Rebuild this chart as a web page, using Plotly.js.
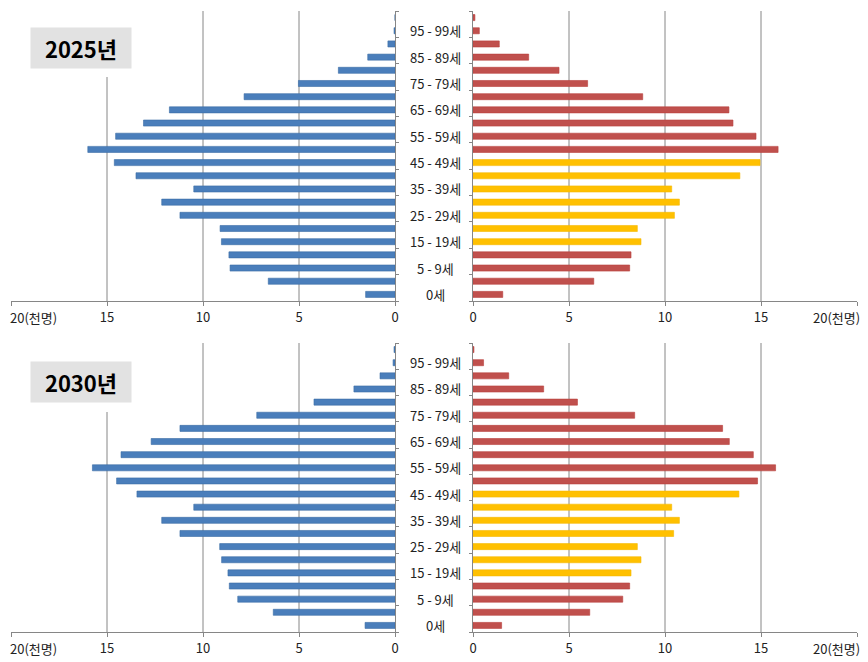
<!DOCTYPE html>
<html>
<head>
<meta charset="utf-8">
<script src="https://cdn.plot.ly/plotly-3.0.1.min.js"></script>
<style>
  html, body { margin: 0; padding: 0; background: #fff; }
  #plotArea { width: 868px; height: 662px; }
</style>
</head>
<body>
<div id="plotArea"></div>
<script>
var ages = ["0세", "1 - 4세", "5 - 9세", "10 - 14세", "15 - 19세", "20 - 24세", "25 - 29세",
    "30 - 34세", "35 - 39세", "40 - 44세", "45 - 49세", "50 - 54세", "55 - 59세", "60 - 64세",
    "65 - 69세", "70 - 74세", "75 - 79세", "80 - 84세", "85 - 89세", "90 - 94세", "95 - 99세", "100세 이상"];

// 천명 단위
var left2025 = [1.53, 6.6, 8.59, 8.65, 9.04, 9.11, 11.2, 12.15, 10.48, 13.49, 14.62,
    16.0, 14.55, 13.1, 11.75, 7.86, 5.03, 2.95, 1.42, 0.37, 0.05, 0];
var right2025 = [1.55, 6.29, 8.16, 8.23, 8.75, 8.56, 10.49, 10.75, 10.35, 13.9, 14.95,
    15.89, 14.74, 13.54, 13.33, 8.84, 5.97, 4.48, 2.9, 1.37, 0.33, 0.1];
var left2030 = [1.56, 6.34, 8.19, 8.63, 8.7, 9.03, 9.13, 11.2, 12.15, 10.48, 13.44,
    14.5, 15.76, 14.27, 12.7, 11.2, 7.2, 4.22, 2.14, 0.78, 0.1, 0.05];
var right2030 = [1.49, 6.08, 7.8, 8.16, 8.23, 8.75, 8.56, 10.45, 10.75, 10.35, 13.85,
    14.82, 15.76, 14.6, 13.35, 13.0, 8.42, 5.44, 3.68, 1.86, 0.55, 0.05];

var years = ["2025년", "2030년"];
var xTicks = [0, 5, 10, 15, 20];
var xTickText = ["0", "5", "10", "15", ""];

var font = "Noto Sans CJK KR, Noto Sans, sans-serif";
var blue = "#4a7ebb";
var red = "#c0504d";
var yellow = "#ffc000";

// 15-19세 ~ 45-49세 노란색
var rightColors = ages.map(function (a, i) { return (i >= 4 && i <= 10) ? yellow : red; });
var rightLines = ages.map(function (a, i) { return (i >= 4 && i <= 10) ? "#f5b800" : "#b8403d"; });

function barTrace(vals, xa, ya, color, line) {
    return {
        type: "bar", orientation: "h",
        x: vals, y: ages,
        xaxis: xa, yaxis: ya,
        marker: {color: color, line: {color: line, width: 0.6}},
        hoverinfo: "x+y"
    };
}

var data = [
    barTrace(left2025, "x", "y", blue, "#3b6ba5"),
    barTrace(right2025, "x2", "y2", rightColors, rightLines),
    barTrace(left2030, "x3", "y3", blue, "#3b6ba5"),
    barTrace(right2030, "x4", "y4", rightColors, rightLines)
];

var W = 868, H = 662;
var leftDom = [11 / W, 395 / W];
var rightDom = [473 / W, 857 / W];
var topDom = [1 - 301 / H, 1 - 11 / H];
var botDom = [1 - 632 / H, 1 - 343 / H];

function xAxis(dom, reversed, anchor) {
    return {
        domain: dom, anchor: anchor,
        range: reversed ? [20, 0] : [0, 20],
        tickvals: xTicks, ticktext: xTickText,
        ticks: "outside", ticklen: 4, tickcolor: "#868686",
        showline: true, linecolor: "#868686", linewidth: 1,
        showgrid: false, zeroline: false,
        tickfont: {family: font, size: 13, color: "#222"},
        fixedrange: true
    };
}

function yAxis(dom, side, anchor) {
    return {
        domain: dom, anchor: anchor, side: side,
        type: "category", categoryorder: "array", categoryarray: ages,
        range: [-0.5, ages.length - 0.5],
        showticklabels: false, ticks: "outside", tickson: "boundaries",
        ticklen: 3, tickcolor: "#868686",
        showline: true, linecolor: "#868686", linewidth: 1,
        showgrid: false, zeroline: false,
        fixedrange: true
    };
}

var shapes = [];
var gridAxes = [["x", "y"], ["x2", "y2"], ["x3", "y3"], ["x4", "y4"]];
gridAxes.forEach(function (p) {
    [5, 10, 15].forEach(function (v) {
        shapes.push({
            type: "line", xref: p[0], yref: p[1] + " domain",
            x0: v, x1: v, y0: 0, y1: 1,
            line: {color: "#868686", width: 1}, layer: "below"
        });
    });
});
// 제목 상자 뒤 흰 바탕 (눈금선 가림)
[[0, 77], [331, 412]].forEach(function (r) {
    shapes.push({
        type: "rect", xref: "paper", yref: "paper",
        x0: 20 / W, x1: 140 / W, y0: 1 - r[1] / H, y1: 1 - r[0] / H,
        fillcolor: "#fff", line: {width: 0}, layer: "below"
    });
});

var annotations = [];
var yTitle = [1 - 48.5 / H, 1 - 382 / H];
years.forEach(function (t, k) {
    annotations.push({
        text: "<b>" + t + "</b>", xref: "paper", yref: "paper",
        x: 80.5 / W, y: yTitle[k], xanchor: "center", yanchor: "middle",
        showarrow: false, width: 92, height: 32, borderpad: 4,
        bgcolor: "#e2e2e2",
        font: {family: font, size: 22, color: "#000"}
    });
});

// 가운데 연령 라벨 (한 칸 건너)
[["y", "y2"], ["y3", "y4"]].forEach(function (p) {
    ages.forEach(function (a, i) {
        if (i % 2 === 0 && i < 21) {
            annotations.push({
                text: a, xref: "paper", yref: p[0],
                x: 435 / W, y: a, xanchor: "center", yanchor: "middle",
                showarrow: false,
                font: {family: font, size: 13, color: "#222"}
            });
        }
    });
});

// "20(천명)" 라벨
[["x", "y", "left"], ["x2", "y2", "right"], ["x3", "y3", "left"], ["x4", "y4", "right"]].forEach(function (p) {
    annotations.push({
        text: "20(천명)", xref: p[0], yref: p[1] + " domain",
        x: 20, y: 0, xanchor: p[2], yanchor: "top", yshift: -5,
        xshift: p[2] === "left" ? -3 : 5,
        showarrow: false,
        font: {family: font, size: 13, color: "#222"}
    });
});

var layout = {
    width: W, height: H,
    margin: {l: 0, r: 0, t: 0, b: 0},
    paper_bgcolor: "#fff", plot_bgcolor: "rgba(0,0,0,0)",
    showlegend: false,
    bargap: 0.54,
    xaxis: xAxis(leftDom, true, "y"),
    yaxis: yAxis(topDom, "right", "x"),
    xaxis2: xAxis(rightDom, false, "y2"),
    yaxis2: yAxis(topDom, "left", "x2"),
    xaxis3: xAxis(leftDom, true, "y3"),
    yaxis3: yAxis(botDom, "right", "x3"),
    xaxis4: xAxis(rightDom, false, "y4"),
    yaxis4: yAxis(botDom, "left", "x4"),
    shapes: shapes,
    annotations: annotations
};

Plotly.newPlot("plotArea", data, layout, {displayModeBar: false, staticPlot: true});
</script>
</body>
</html>
